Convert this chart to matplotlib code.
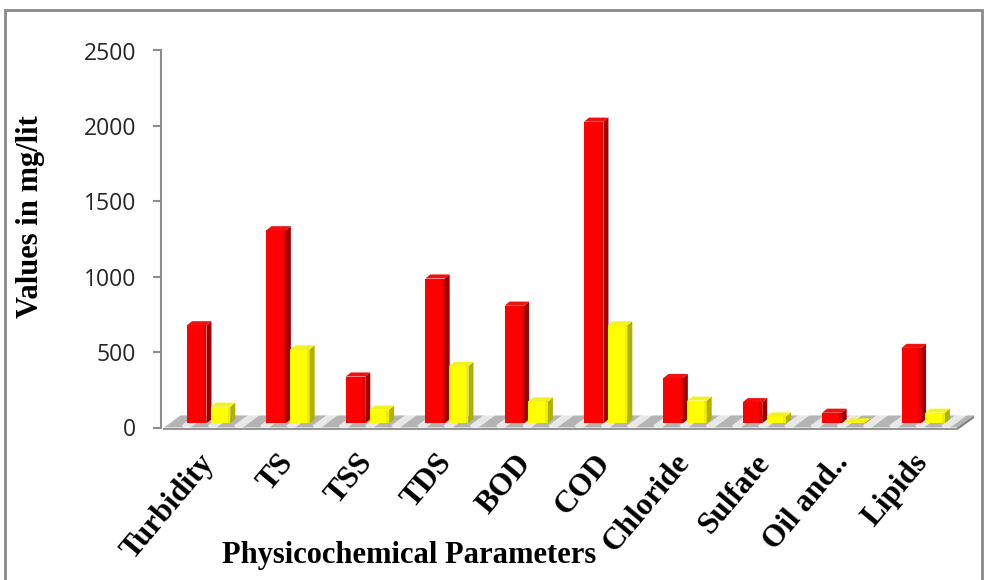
import matplotlib
matplotlib.use("Agg")
import matplotlib.pyplot as plt
from matplotlib.patches import Polygon, Rectangle
import numpy as np

# Physicochemical parameters of the wastewater (mg/lit)
categories = ["Turbidity", "TS", "TSS", "TDS", "BOD", "COD",
              "Chloride", "Sulfate", "Oil and..", "Lipids"]
before_values = [650, 1280, 310, 960, 780, 2000, 300, 140, 70, 500]
after_values = [110, 490, 90, 380, 145, 650, 150, 45, 6, 70]
y_ticks = [0, 500, 1000, 1500, 2000, 2500]

W, H = 984, 580
fig = plt.figure(figsize=(W / 100, H / 100), dpi=100)
fig.patch.set_facecolor("white")

# outer chart frame
fig.add_artist(Rectangle((5 / W, -0.05), (982 - 5) / W, 1.05 - 10 / H,
                         transform=fig.transFigure, fill=False,
                         edgecolor="#8a8a8a", linewidth=2))

ax = fig.add_axes([163 / W, (H - 427.5) / H, (957 - 163) / W, 377 / H])
n = len(categories)
ax.set_xlim(-0.5, n - 0.5)
ax.set_ylim(0, 2500)
ax.set_facecolor("none")

# 3-D depth of the floor and of the columns (category units, value units)
DXF, DYF = 0.214, 80.0
FX, FY = 0.35 * DXF, 0.35 * DYF
BX, BY = 0.063, 27.0
BAR_W = 0.245
PITCH = 0.30

# floor: top face, hatched stripes, front edge and right side
floor_top = Polygon([(-0.5, 0), (n - 0.5, 0), (n - 0.5 + DXF, DYF), (-0.5 + DXF, DYF)],
                    closed=True, facecolor="#b4b4b4", edgecolor="none",
                    clip_on=False, zorder=1)
ax.add_patch(floor_top)
for x0 in np.arange(-0.9, n + 0.3, 0.33):
    ln, = ax.plot([x0, x0 + DXF * 1.6], [-5, DYF * 1.6], color="white",
                  linewidth=5, alpha=0.7, solid_capstyle="butt",
                  clip_on=False, zorder=1.1)
    ln.set_clip_path(floor_top)
ax.add_patch(Polygon([(-0.5, 0), (n - 0.5, 0), (n - 0.5, -18), (-0.5, -18)],
                     closed=True, facecolor="#969696", edgecolor="none",
                     clip_on=False, zorder=1.2))
ax.add_patch(Polygon([(n - 0.5, 0), (n - 0.5 + DXF, DYF), (n - 0.5 + DXF, DYF - 18),
                      (n - 0.5, -18)], closed=True, facecolor="#808080",
                     edgecolor="none", clip_on=False, zorder=1.2))


def column(left, value, front, shade, side, top, z):
    bottom = FY
    ax.bar(left, value, width=BAR_W, bottom=bottom, align="edge",
           color=front, edgecolor="none", zorder=z, clip_on=False)
    right = left + BAR_W
    hi = bottom + value
    # rounded right edge of the front face
    ax.add_patch(Rectangle((right - 0.035, bottom), 0.035, value,
                           facecolor=shade, edgecolor="none", zorder=z, clip_on=False))
    ax.add_patch(Polygon([(right, bottom), (right + BX, bottom + BY),
                          (right + BX, hi + BY), (right, hi)], closed=True,
                         facecolor=side, edgecolor="none", zorder=z, clip_on=False))
    ax.add_patch(Polygon([(left, hi), (right, hi), (right + BX, hi + BY),
                          (left + BX, hi + BY)], closed=True,
                         facecolor=top, edgecolor="none", zorder=z, clip_on=False))


centers = np.arange(n)
for i in range(n):
    left = centers[i] - 0.2725 + FX
    column(left, before_values[i], "#ff0000", "#e80000", "#a00000", "#f01010", 3 + i * 0.01)
    column(left + PITCH, after_values[i], "#ffff00", "#eeee00", "#b0b000", "#f2f220",
           3.005 + i * 0.01)

# axes styling
for s in ("top", "right", "bottom"):
    ax.spines[s].set_visible(False)
ax.spines["left"].set_position(("outward", 1.5))
ax.spines["left"].set_color("#8c8c8c")
ax.spines["left"].set_linewidth(1.5)
ax.set_yticks(y_ticks)
ax.set_yticklabels([str(v) for v in y_ticks], fontfamily="Open Sans",
                   fontsize=16.5, color="#262626")
ax.tick_params(axis="y", direction="out", length=6, width=1.5,
               color="#8c8c8c", pad=12)

ax.set_xticks(centers + FX)
ax.set_xticklabels(categories, rotation=50, ha="right", va="center",
                   rotation_mode="anchor", fontfamily="Liberation Serif",
                   fontweight="bold", fontsize=22.5)
ax.tick_params(axis="x", length=0, pad=22)

fig.text(31 / W, 1 - 217 / H, "Values in mg/lit", rotation=90,
         ha="center", va="center", fontfamily="Liberation Serif",
         fontweight="bold", fontsize=22)
fig.text(409 / W, 1 - 556 / H, "Physicochemical Parameters",
         ha="center", va="center", fontfamily="Liberation Serif",
         fontweight="bold", fontsize=22, zorder=0)

fig.savefig("out.png", dpi=100)
